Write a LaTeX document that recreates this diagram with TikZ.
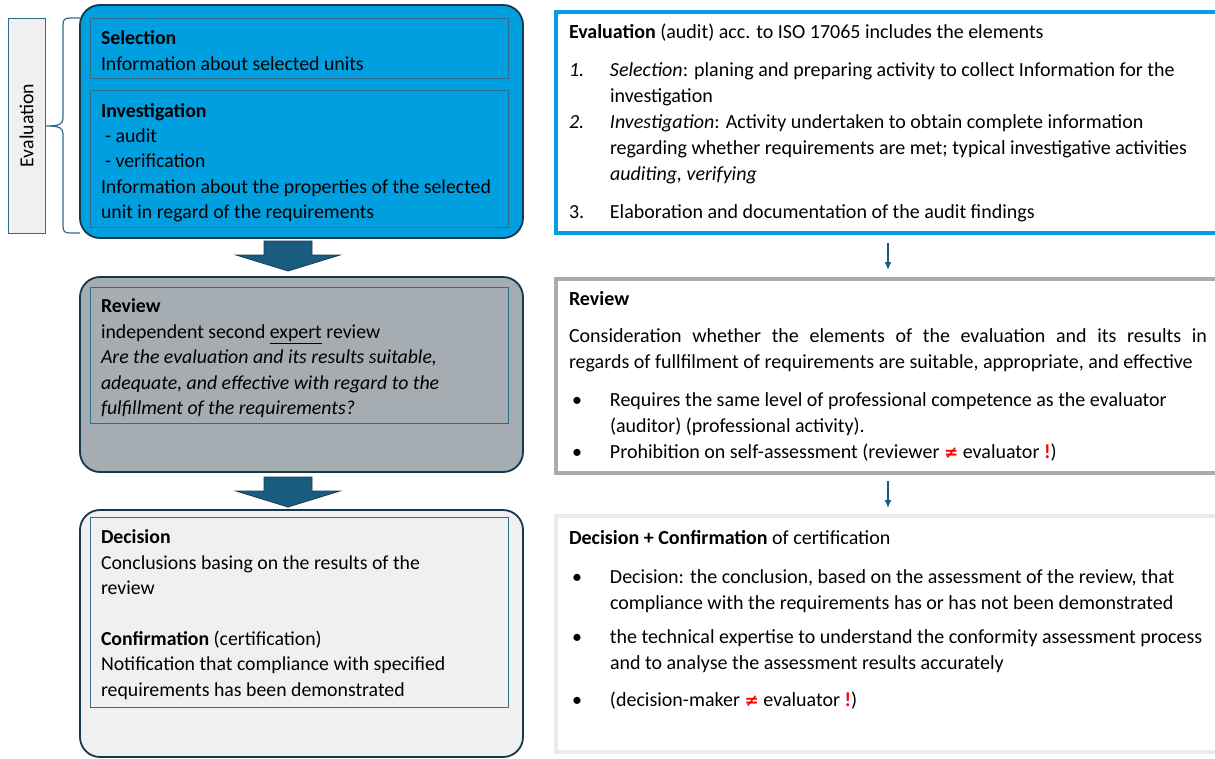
\documentclass[tikz,border=0pt]{standalone}
\usepackage{fontspec}
\setmainfont{Carlito}
\newfontfamily\symfont{DejaVu Sans}[Scale=0.85]
\usetikzlibrary{arrows.meta,positioning,calc}
\usepgflibrary{arrows.meta}

\definecolor{evalblue}{HTML}{009FE0}
\definecolor{darkframe}{HTML}{17384A}
\definecolor{innerframe}{HTML}{2E6D8E}
\definecolor{arrowblue}{HTML}{1A5C80}
\definecolor{arrowedge}{HTML}{123F58}
\definecolor{reviewgray}{HTML}{A5ACB2}
\definecolor{lightgray}{HTML}{F0F0F0}
\definecolor{paleframe}{HTML}{EBEBEB}
\definecolor{notred}{HTML}{FF0000}

\newcommand{\itm}[2]{\par\hangindent=41pt\hangafter=1\noindent\makebox[41pt][l]{#1}#2}
\newcommand{\bul}{\hspace*{3pt}\textbullet}
\newcommand{\noteq}{\textcolor{notred}{{\symfont\bfseries ≠}}}
\newcommand{\excl}{\textcolor{notred}{\textbf{!}}}
\newcommand{\topgap}[1]{\rule{0pt}{#1}}

\begin{document}
\begin{tikzpicture}[x=1pt,y=-1pt,
    font=\fontsize{19.8}{25.4}\selectfont,
    bigbox/.style={draw=darkframe,line width=1.8pt,rounded corners=20pt,anchor=north west,
        outer sep=0pt,minimum width=443pt},
    inbox/.style={draw=innerframe,line width=1pt,anchor=north west,outer sep=0pt,
        inner xsep=11pt,text width=396pt,align=flush left},
    sidebox/.style={line width=3.5pt,fill=white,anchor=north west,outer sep=0pt,
        inner xsep=13pt,text width=638pt,align=justify,font=\fontsize{20}{26}\selectfont},
    thinarrow/.style={arrowblue,line width=1.5pt,-{Latex[length=8pt,width=7pt]}},
    fatarrow/.pic={\draw[fill=arrowblue,draw=arrowedge,line width=0.8pt]
        (-24,0) -- (24,0) -- (24,14) -- (52,14) -- (0,30) -- (-52,14) -- (-24,14) -- cycle;}]
    \useasboundingbox (0,0) rectangle (1215,758);
    \clip (0,0) rectangle (1215,758);

    %左侧大框
    \node[bigbox,fill=evalblue,minimum height=233pt] (eval) at (80,5) {};
    \node[bigbox,fill=reviewgray,minimum height=195pt] (review) at (80,277) {};
    \node[bigbox,fill=lightgray,minimum height=247pt] (decision) at (80,510) {};

    %框内文字
    \node[inbox,minimum height=60pt] (selection) at (90,18)
        {\topgap{19pt}\textbf{Selection}\\ Information about selected units};
    \node[inbox,minimum height=137pt] (investigation) at (90,90)
        {\topgap{22pt}\textbf{Investigation}\\ \hspace*{4pt}- audit\\ \hspace*{4pt}- verification\\
         Information about the properties of the selected\\ unit in regard of the requirements};
    \node[inbox,minimum height=136pt] (reviewin) at (90,287)
        {\topgap{20.5pt}\textbf{Review}\\ independent second \underline{expert} review\\
         \textit{Are the evaluation and its results suitable,}\\
         \textit{adequate, and effective with regard to the}\\
         \textit{fulfillment of the requirements?}};
    \node[inbox,minimum height=190pt] (decisionin) at (90,517)
        {\topgap{19pt}\textbf{Decision}\\ Conclusions basing on the results of the\\ review\\[25.4pt]
         \textbf{Confirmation} (certification)\\ Notification that compliance with specified\\
         requirements has been demonstrated};

    %粗箭头
    \pic at ([xshift=-13.5pt,yshift=-3pt]eval.south) {fatarrow};
    \pic at ([xshift=-13.5pt,yshift=-5pt]review.south) {fatarrow};

    %左边标签和括号
    \node[rotate=90,draw=innerframe,fill=lightgray,line width=1pt,
        minimum width=215pt,minimum height=37pt] (evallabel) at (26.5,125.5) {Evaluation};
    \draw[innerframe,line width=1.2pt] (80,18) -- (70,18) .. controls (64,18) and (63,20) .. (63,26)
        -- (63,118) .. controls (63,124) and (60,126) .. (46,126)
        .. controls (60,126) and (63,128) .. (63,134) -- (63,225)
        .. controls (63,231) and (64,233) .. (70,233) -- (80,233);

    %右侧说明
    \node[sidebox,draw=evalblue,minimum height=221pt] (evaltxt) at (556,12)
        {\textbf{Evaluation} (audit) acc. to ISO 17065 includes the elements\par\vspace{12pt}
         \itm{\textit{1.}}{\textit{Selection}: planing and preparing activity to collect Information for the\\ investigation}
         \itm{\textit{2.}}{\textit{Investigation}: Activity undertaken to obtain complete information\\
             regarding whether requirements are met; typical investigative activities\\
             \textit{auditing, verifying}}\par\vspace{12pt}
         \itm{3.}{Elaboration and documentation of the audit findings}};
    \node[sidebox,draw=reviewgray,minimum height=194pt] (reviewtxt) at (556,279)
        {\textbf{Review}\par\vspace{11pt}
         Consideration whether the elements of the evaluation and its results in\linebreak
         regards of fullfilment of requirements are suitable, appropriate, and effective\par\vspace{12pt}
         \itm{\bul}{Requires the same level of professional competence as the evaluator\\
             (auditor) (professional activity).}
         \itm{\bul}{Prohibition on self-assessment (reviewer \noteq\ evaluator \excl)}};
    \node[sidebox,draw=paleframe,minimum height=236pt] (decisiontxt) at (556,516)
        {\textbf{Decision + Confirmation} of certification\par\vspace{13pt}
         \itm{\bul}{Decision: the conclusion, based on the assessment of the review, that\\
             compliance with the requirements has or has not been demonstrated}\par\vspace{8pt}
         \itm{\bul}{the technical expertise to understand the conformity assessment process\\
             and to analyse the assessment results accurately}\par\vspace{11pt}
         \itm{\bul}{(decision-maker \noteq\ evaluator \excl)}\par\vspace{5pt}\mbox{}};

    %细箭头
    \draw[thinarrow] ([yshift=-10pt]evaltxt.south) -- ([yshift=9pt]reviewtxt.north);
    \draw[thinarrow] ([yshift=-8pt]reviewtxt.south) -- ([yshift=8pt]decisiontxt.north);
\end{tikzpicture}
\end{document}
